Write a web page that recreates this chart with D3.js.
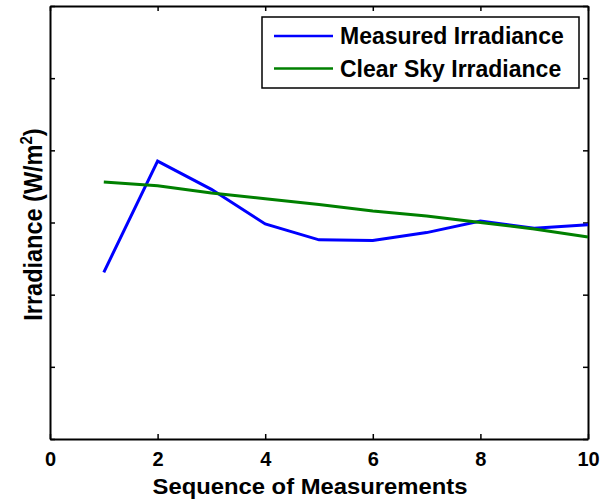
<!DOCTYPE html>
<html>
<head>
<meta charset="utf-8">
<script src="https://cdn.jsdelivr.net/npm/d3@7"></script>
<style>
    body { margin: 0; background: #fff; }
    .chart-wrapper text { font-family: "Liberation Sans", Arial, sans-serif; font-weight: bold; fill: #000; }
    .axis path, .axis line { stroke: #000; }
    .axis path { stroke-width: 2; }
    .axis line { stroke-width: 1.5; }
</style>
</head>
<body>
<div class="chart-wrapper"></div>
<script>
// measurement index
var sequence = [1, 2, 3, 4, 5, 6, 7, 8, 9, 10];
// irradiance (y axis has no numbers, unit scale 0..600)
var measured = [231, 385, 346, 298, 276, 275, 286, 302, 292, 297];
var clearSky = [356, 351, 341, 333, 325, 316, 309, 300, 291, 280];
var xTicks = [0, 2, 4, 6, 8, 10];
var yTicks = [0, 100, 200, 300, 400, 500, 600];
var seriesNames = ["Measured Irradiance", "Clear Sky Irradiance"];
var seriesColors = ["#0000ff", "#008000"];

var margin = {top: 6, right: 13, bottom: 60, left: 50};
var width = 601 - margin.left - margin.right;
var height = 499 - margin.top - margin.bottom;

var x = d3.scaleLinear()
    .domain([0, 10])
    .range([0, width]);

var y = d3.scaleLinear()
    .domain([0, 600])
    .range([height, 0]);

var svg = d3.select(".chart-wrapper").append("svg")
    .attr("width", width + margin.left + margin.right)
    .attr("height", height + margin.top + margin.bottom)
    .append("g")
    .attr("transform", "translate(" + margin.left + "," + margin.top + ")");

// four sided box, ticks pointing in
svg.append("g")
    .attr("class", "x axis")
    .attr("transform", "translate(0," + height + ")")
    .call(d3.axisBottom(x).tickValues(xTicks).tickSizeInner(-5).tickSizeOuter(0).tickPadding(13))
    .selectAll("text")
    .style("font-size", "20px");

svg.append("g")
    .attr("class", "x axis")
    .call(d3.axisTop(x).tickValues(xTicks).tickSizeInner(-5).tickSizeOuter(0).tickFormat(""));

svg.append("g")
    .attr("class", "y axis")
    .call(d3.axisLeft(y).tickValues(yTicks).tickSizeInner(-5).tickSizeOuter(0).tickFormat(""));

svg.append("g")
    .attr("class", "y axis")
    .attr("transform", "translate(" + width + ",0)")
    .call(d3.axisRight(y).tickValues(yTicks).tickSizeInner(-5).tickSizeOuter(0).tickFormat(""));

var line = d3.line()
    .x(function (d) { return x(d.x); })
    .y(function (d) { return y(d.y); });

var series = [measured, clearSky].map(function (vals) {
    return vals.map(function (v, i) { return {x: sequence[i], y: v}; });
});

svg.selectAll(".series")
    .data(series)
    .enter().append("path")
    .attr("class", "series")
    .attr("fill", "none")
    .attr("stroke", function (d, i) { return seriesColors[i]; })
    .attr("stroke-width", 3)
    .attr("stroke-linejoin", "miter")
    .attr("d", line);

// axis labels
svg.append("text")
    .attr("x", width / 2 - 9)
    .attr("y", height + 55)
    .attr("text-anchor", "middle")
    .attr("textLength", 315)
    .attr("lengthAdjust", "spacingAndGlyphs")
    .style("font-size", "22.5px")
    .text("Sequence of Measurements");

var ylab = svg.append("text")
    .attr("transform", "translate(-8," + (height / 2 + 2) + ") scale(1.1,1) rotate(-90)")
    .attr("text-anchor", "middle")
    .style("font-size", "23.5px");
ylab.append("tspan").text("Irradiance (W/m");
ylab.append("tspan").attr("dy", -9).style("font-size", "15px").text("2");
ylab.append("tspan").attr("dy", 9).text(")");

// legend
var legend = svg.append("g")
    .attr("transform", "translate(" + (262 - margin.left) + "," + (17 - margin.top) + ")");

legend.append("rect")
    .attr("width", 317)
    .attr("height", 71)
    .attr("fill", "#fff")
    .attr("stroke", "#000")
    .attr("stroke-width", 1.5);

var item = legend.selectAll(".item")
    .data(seriesNames)
    .enter().append("g")
    .attr("class", "item")
    .attr("transform", function (d, i) { return "translate(0," + (19 + i * 32.5) + ")"; });

item.append("line")
    .attr("x1", 12)
    .attr("x2", 71)
    .attr("stroke", function (d, i) { return seriesColors[i]; })
    .attr("stroke-width", 2.5);

item.append("text")
    .attr("x", 78)
    .attr("dy", "0.35em")
    .style("font-size", "23px")
    .text(function (d) { return d; });
</script>
</body>
</html>
